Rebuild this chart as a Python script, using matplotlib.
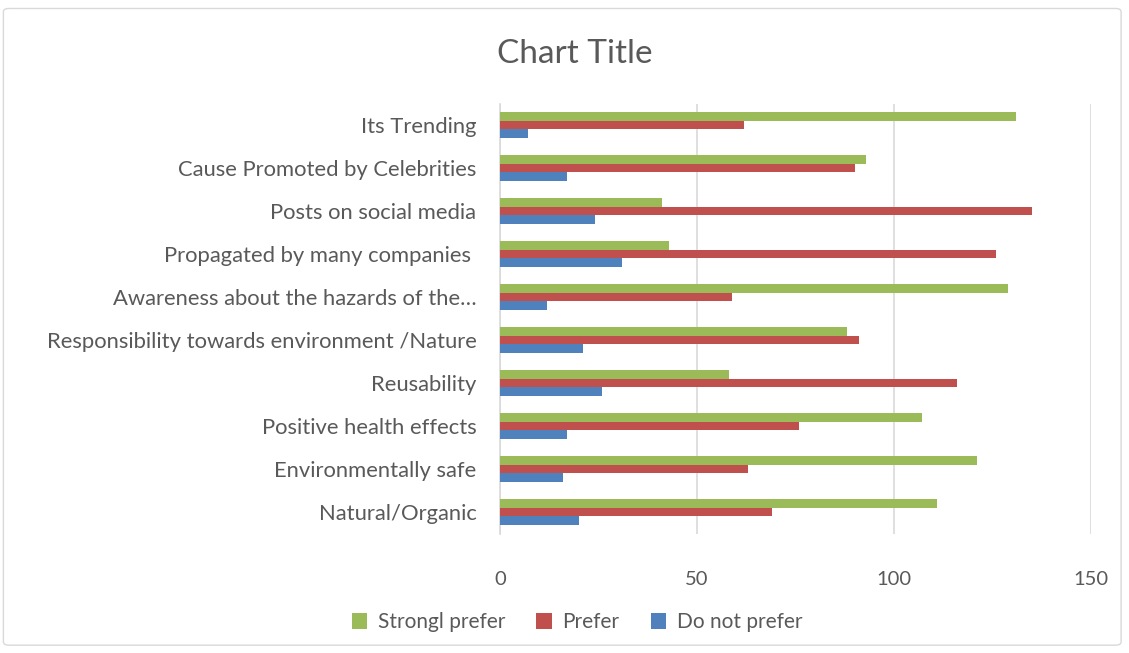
import numpy as np
import matplotlib.pyplot as plt
from matplotlib.patches import FancyBboxPatch

categories = [
    "Natural/Organic",
    "Environmentally safe",
    "Positive health effects",
    "Reusability",
    "Responsibility towards environment /Nature",
    "Awareness about the hazards of the\u2026",
    "Propagated by many companies ",
    "Posts on social media",
    "Cause Promoted by Celebrities",
    "Its Trending",
]
strongly_prefer = [111, 121, 107, 58, 88, 129, 43, 41, 93, 131]
prefer = [69, 63, 76, 116, 91, 59, 126, 135, 90, 62]
do_not_prefer = [20, 16, 17, 26, 21, 12, 31, 24, 17, 7]
x_ticks = [0, 50, 100, 150]

GREEN = "#9bbb59"
RED = "#c0504d"
BLUE = "#4f81bd"
TEXT = "#595959"

plt.rcParams['font.family'] = ['Lato', 'DejaVu Sans']

fig = plt.figure(figsize=(11.29, 6.53), dpi=100)
ax = fig.add_axes([0.4429, 0.183, 0.5234, 0.6585])

y = np.arange(len(categories))
h = 0.2
ax.barh(y + h, strongly_prefer, height=h, color=GREEN, label="Strongl prefer", zorder=3)
ax.barh(y, prefer, height=h, color=RED, label="Prefer", zorder=3)
ax.barh(y - h, do_not_prefer, height=h, color=BLUE, label="Do not prefer", zorder=3)

ax.set_xlim(0, 150)
ax.set_ylim(-0.5, len(categories) - 0.5)
ax.set_xticks(x_ticks)
ax.set_yticks(y)
ax.set_yticklabels(categories)
ax.tick_params(axis='y', length=0, pad=17, labelsize=15.8, labelcolor=TEXT)
ax.tick_params(axis='x', length=0, pad=27, labelsize=14.5, labelcolor=TEXT)
ax.grid(axis='x', color="#d9d9d9", linewidth=1.2, zorder=0)
for side in ["top", "right", "bottom"]:
    ax.spines[side].set_visible(False)
ax.spines["left"].set_color("#d9d9d9")
ax.spines["left"].set_linewidth(1.2)

fig.text(0.509, 0.918, "Chart Title", ha="center", va="center", fontsize=24, color=TEXT)

fig.legend(loc="center", bbox_to_anchor=(0.511, 0.047), ncol=3, frameon=False,
           fontsize=15, labelcolor=TEXT, handlelength=0.75, handleheight=0.75,
           columnspacing=1.5, handletextpad=0.5)

border = FancyBboxPatch((0.003, 0.012), 0.99, 0.975, boxstyle="round,pad=0,rounding_size=0.005",
                        transform=fig.transFigure, fill=False, edgecolor="#d9d9d9", linewidth=1)
fig.patches.append(border)

fig.savefig("out.png", dpi=100, facecolor="white")
